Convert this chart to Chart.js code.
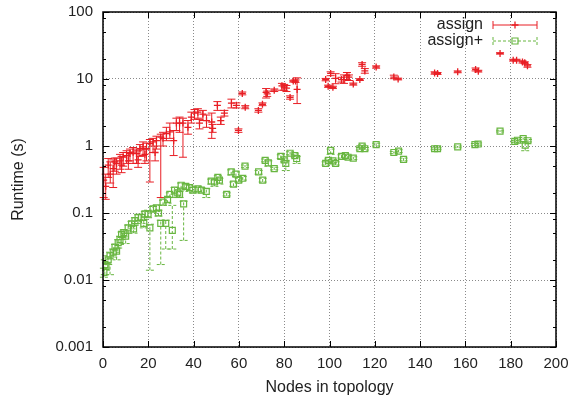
<!DOCTYPE html>
<html>
<head>
  <title>Runtime vs nodes</title>
  <script src="https://cdn.jsdelivr.net/npm/chart.js"></script>
  <style>
    body { margin: 0; background: #fff; }
    #wrap { width: 572px; height: 400px; }
  </style>
</head>
<body>
  <div id="wrap"><canvas id="runtimeChart"></canvas></div>

  <script>
    // ====================
    // Data: assign (x, runtime, error low, error high)
    // ====================
    const assignX  = [0.3, 1.2, 2.3, 3.2, 4.5, 5.2, 6.0, 7.5, 8.2, 8.9, 10.4, 11.2, 11.9, 13.3, 14.8, 15.5, 16.3, 17.7, 18.5, 19.2,
                      20.7, 22.1, 23.0, 23.6, 25.5, 26.5, 28.0, 29.5, 31.2, 32.4, 33.8, 35.3, 37.5, 39.0, 40.4, 41.9, 42.6, 44.1, 45.7, 48.0,
                      48.4, 50.5, 52.0, 53.6, 56.7, 58.9, 59.8, 61.5, 62.8, 68.6, 70.4, 72.0, 72.5, 75.6, 79.0, 80.0, 81.0, 82.6, 84.0, 85.0,
                      85.7, 98.3, 99.4, 100.5, 101.5, 102.7, 105.3, 106.4, 107.7, 108.6, 110.5, 113.4, 114.4, 115.6, 120.6, 128.4, 130.3, 146.4, 147.7, 156.6,
                      164.5, 165.7, 175.3, 181.1, 182.6, 185.2, 186.2, 187.4];
    const assignY  = [0.31, 0.25, 0.52, 0.38, 0.46, 0.58, 0.55, 0.6, 0.52, 0.68, 0.72, 0.6, 0.77, 0.81, 0.77, 0.62, 0.91, 0.97, 0.75, 0.91,
                      1.09, 1.15, 0.8, 1.2, 1.36, 1.3, 1.53, 1.62, 1.2, 2.2, 2.2, 2.2, 1.9, 2.7, 3.1, 3.2, 2.2, 3.0, 2.4, 2.28,
                      1.83, 4.05, 2.4, 3.1, 4.35, 4.05, 1.71, 6.1, 3.8, 3.4, 4.2, 6.3, 6.0, 6.8, 7.9, 7.6, 7.3, 5.3, 9.3, 9.3,
                      7.0, 9.8, 7.8, 12.1, 7.5, 10.2, 9.8, 9.8, 11.2, 10.7, 8.4, 9.8, 16.5, 13.2, 15.1, 10.7, 10.0, 12.3, 12.1, 12.8,
                      13.9, 13.1, 24.1, 19.1, 19.1, 18.0, 17.5, 15.7];
    const assignLo = [0.17, 0.16, 0.34, 0.28, 0.24, 0.42, 0.38, 0.45, 0.4, 0.5, 0.55, 0.45, 0.6, 0.55, 0.55, 0.48, 0.7, 0.72, 0.55, 0.6,
                      0.29, 0.8, 0.6, 0.9, 0.17, 1.0, 1.2, 1.3, 0.72, 1.7, 1.6, 0.68, 1.5, 2.2, 2.5, 2.6, 1.8, 2.4, 1.9, 1.3,
                      1.6, 3.4, 2.1, 2.8, 3.7, 3.7, 1.6, 5.8, 3.6, 3.2, 4.0, 5.2, 5.5, 6.5, 6.8, 6.8, 6.5, 5.0, 9.0, 8.9,
                      4.3, 9.4, 7.5, 11.2, 7.2, 8.5, 9.0, 8.6, 9.8, 9.5, 8.1, 9.5, 15.5, 12.2, 14.5, 10.1, 9.7, 11.8, 11.7, 12.4,
                      13.2, 12.7, 23.5, 18.5, 18.5, 17.3, 16.9, 15.0];
    const assignHi = [0.48, 0.38, 0.65, 0.58, 0.62, 0.66, 0.66, 0.75, 0.7, 0.8, 0.85, 0.8, 0.9, 0.95, 0.9, 0.85, 1.05, 1.15, 0.9, 1.1,
                      1.25, 1.3, 1.0, 1.4, 1.5, 1.6, 1.9, 2.2, 1.7, 2.6, 2.7, 2.6, 2.4, 3.2, 3.5, 3.6, 2.5, 3.4, 2.9, 3.1,
                      2.1, 4.6, 2.7, 3.4, 5.0, 4.4, 1.8, 6.4, 4.0, 3.6, 4.4, 7.2, 6.6, 7.1, 8.6, 8.3, 8.0, 5.6, 9.6, 9.7,
                      10.4, 10.2, 8.1, 12.8, 7.8, 12.0, 10.6, 11.5, 12.5, 11.5, 8.7, 10.1, 17.5, 14.3, 15.7, 11.4, 10.3, 12.8, 12.5, 13.2,
                      14.6, 13.5, 24.7, 19.7, 19.7, 18.7, 18.1, 16.4];

    // ====================
    // Data: assign+ (x, runtime, error low, error high)
    // ====================
    const plusX  = [0.4, 0.8, 1.3, 2.3, 3.1, 4.5, 5.3, 6.0, 6.7, 7.5, 8.2, 9.2, 10.0, 11.1, 12.6, 13.5, 14.1, 15.5, 17.0, 18.0,
                    18.5, 19.9, 20.7, 22.1, 23.6, 24.5, 25.5, 26.5, 27.7, 28.5, 29.5, 30.6, 31.6, 33.0, 33.8, 34.5, 35.6, 36.5, 38.2, 39.7,
                    41.9, 43.4, 45.6, 47.8, 49.2, 50.7, 51.4, 54.6, 56.6, 57.6, 58.7, 59.9, 61.7, 62.7, 68.7, 70.5, 71.6, 73.0, 75.6, 78.5,
                    80.0, 80.7, 82.6, 84.7, 85.5, 98.3, 99.5, 100.5, 101.5, 102.7, 105.3, 107.0, 108.2, 110.5, 113.4, 114.4, 115.6, 120.6, 128.4, 130.5,
                    132.7, 146.4, 147.7, 156.6, 164.2, 165.6, 175.3, 181.8, 183.0, 185.5, 186.4, 187.6];
    const plusY  = [0.013, 0.017, 0.016, 0.020, 0.023, 0.026, 0.031, 0.027, 0.036, 0.04, 0.048, 0.051, 0.045, 0.06, 0.069, 0.058, 0.077, 0.086, 0.086, 0.07,
                    0.097, 0.097, 0.06, 0.115, 0.12, 0.1, 0.07, 0.145, 0.07, 0.16, 0.19, 0.055, 0.22, 0.2, 0.19, 0.26, 0.137, 0.25, 0.24, 0.22,
                    0.23, 0.22, 0.21, 0.30, 0.29, 0.34, 0.31, 0.19, 0.41, 0.27, 0.38, 0.31, 0.33, 0.50, 0.41, 0.31, 0.61, 0.56, 0.46, 0.70,
                    0.62, 0.55, 0.78, 0.72, 0.65, 0.55, 0.61, 0.86, 0.60, 0.55, 0.70, 0.72, 0.68, 0.66, 0.91, 1.0, 0.91, 1.05, 0.80, 0.84,
                    0.63, 0.91, 0.91, 0.97, 1.05, 1.07, 1.67, 1.17, 1.22, 1.29, 1.03, 1.2];
    const plusLo = [0.011, 0.012, 0.014, 0.017, 0.012, 0.022, 0.026, 0.02, 0.03, 0.034, 0.04, 0.044, 0.035, 0.05, 0.058, 0.05, 0.066, 0.075, 0.07, 0.06,
                    0.085, 0.085, 0.014, 0.1, 0.105, 0.09, 0.017, 0.13, 0.029, 0.14, 0.17, 0.029, 0.19, 0.17, 0.17, 0.23, 0.039, 0.22, 0.21, 0.2,
                    0.21, 0.2, 0.17, 0.27, 0.25, 0.31, 0.27, 0.18, 0.37, 0.25, 0.35, 0.29, 0.31, 0.48, 0.38, 0.29, 0.58, 0.5, 0.44, 0.65,
                    0.58, 0.43, 0.74, 0.68, 0.55, 0.52, 0.58, 0.75, 0.57, 0.52, 0.66, 0.68, 0.64, 0.63, 0.87, 0.96, 0.87, 1.0, 0.77, 0.8,
                    0.6, 0.88, 0.88, 0.94, 1.01, 1.03, 1.62, 1.13, 1.18, 1.24, 0.85, 1.15];
    const plusHi = [0.015, 0.02, 0.018, 0.023, 0.026, 0.029, 0.034, 0.03, 0.04, 0.045, 0.052, 0.056, 0.05, 0.066, 0.075, 0.065, 0.085, 0.094, 0.095, 0.08,
                    0.105, 0.11, 0.068, 0.125, 0.13, 0.11, 0.078, 0.155, 0.078, 0.17, 0.2, 0.13, 0.24, 0.22, 0.21, 0.28, 0.15, 0.27, 0.26, 0.24,
                    0.25, 0.24, 0.23, 0.32, 0.31, 0.36, 0.33, 0.2, 0.44, 0.29, 0.41, 0.33, 0.35, 0.52, 0.43, 0.33, 0.64, 0.6, 0.48, 0.74,
                    0.66, 0.6, 0.82, 0.76, 0.7, 0.58, 0.64, 0.9, 0.63, 0.58, 0.74, 0.76, 0.72, 0.69, 0.95, 1.04, 0.95, 1.1, 0.83, 0.88,
                    0.66, 0.94, 0.94, 1.0, 1.09, 1.11, 1.72, 1.21, 1.26, 1.34, 1.1, 1.25];

    const yMajorTicks = [0.001, 0.01, 0.1, 1, 10, 100];
    const yMinorSteps = [2, 5, 8];
    const seriesNames = ['assign', 'assign+'];

    const RED = 'rgb(232, 30, 36)';
    const GREEN = 'rgb(104, 182, 64)';
    const FONT = '"Liberation Sans", Arial, sans-serif';

    function toPoints(xs, ys, lo, hi) {
      return xs.map((x, i) => ({ x: x, y: ys[i], lo: lo[i], hi: hi[i] }));
    }

    // error bars with caps, drawn through the chart scales
    const errorBars = {
      id: 'errorBars',
      beforeDatasetsDraw(chart) {
        const ctx = chart.ctx;
        const xs = chart.scales.x, ys = chart.scales.y;
        chart.data.datasets.forEach(ds => {
          ctx.save();
          ctx.strokeStyle = ds.borderColor;
          ctx.lineWidth = 1;
          ctx.setLineDash(ds.errDash || []);
          ds.data.forEach(p => {
            const px = xs.getPixelForValue(p.x);
            const y1 = ys.getPixelForValue(p.lo);
            const y2 = ys.getPixelForValue(p.hi);
            ctx.beginPath();
            ctx.moveTo(px, y1); ctx.lineTo(px, y2);
            ctx.moveTo(px - 4, y1); ctx.lineTo(px + 4, y1);
            ctx.moveTo(px - 4, y2); ctx.lineTo(px + 4, y2);
            ctx.stroke();
          });
          ctx.restore();
        });
      }
    };

    // gnuplot style frame: box, inward ticks, minor log ticks, key
    const frame = {
      id: 'frame',
      afterDraw(chart) {
        const ctx = chart.ctx;
        const a = chart.chartArea;
        const xs = chart.scales.x, ys = chart.scales.y;
        ctx.save();
        ctx.strokeStyle = '#000';
        ctx.lineWidth = 1;
        ctx.beginPath();
        xs.ticks.forEach(t => {
          const px = Math.round(xs.getPixelForValue(t.value)) + 0.5;
          ctx.moveTo(px, a.bottom); ctx.lineTo(px, a.bottom - 6);
          ctx.moveTo(px, a.top); ctx.lineTo(px, a.top + 6);
        });
        yMajorTicks.forEach(v => {
          const py = Math.round(ys.getPixelForValue(v)) + 0.5;
          ctx.moveTo(a.left, py); ctx.lineTo(a.left + 6, py);
          ctx.moveTo(a.right, py); ctx.lineTo(a.right - 6, py);
          if (v < 100) {
            yMinorSteps.forEach(m => {
              const pm = Math.round(ys.getPixelForValue(v * m)) + 0.5;
              ctx.moveTo(a.left, pm); ctx.lineTo(a.left + 3, pm);
              ctx.moveTo(a.right, pm); ctx.lineTo(a.right - 3, pm);
            });
          }
        });
        ctx.stroke();
        ctx.lineWidth = 1.5;
        ctx.strokeRect(Math.round(a.left), Math.round(a.top), Math.round(a.right - a.left), Math.round(a.bottom - a.top));

        // key
        ctx.font = '16px ' + FONT;
        ctx.fillStyle = '#222';
        ctx.textAlign = 'right';
        ctx.textBaseline = 'middle';
        chart.data.datasets.forEach((ds, i) => {
          const ky = 25 + i * 16;
          ctx.fillText(seriesNames[i], 483, ky);
          ctx.strokeStyle = ds.borderColor;
          ctx.lineWidth = 1;
          ctx.setLineDash(ds.errDash || []);
          ctx.beginPath();
          ctx.moveTo(493, ky); ctx.lineTo(537, ky);
          ctx.moveTo(493, ky - 4); ctx.lineTo(493, ky + 4);
          ctx.moveTo(537, ky - 4); ctx.lineTo(537, ky + 4);
          ctx.stroke();
          ctx.setLineDash([]);
          ctx.lineWidth = ds.borderWidth;
          ctx.beginPath();
          if (ds.pointStyle === 'cross') {
            ctx.moveTo(511.5, ky); ctx.lineTo(518.5, ky);
            ctx.moveTo(515, ky - 3.5); ctx.lineTo(515, ky + 3.5);
          } else {
            ctx.rect(512, ky - 3, 6, 6);
          }
          ctx.stroke();
        });
        ctx.restore();
      }
    };

    new Chart(document.getElementById('runtimeChart'), {
      type: 'scatter',
      data: {
        datasets: [
          {
            label: seriesNames[0],
            data: toPoints(assignX, assignY, assignLo, assignHi),
            borderColor: RED,
            backgroundColor: RED,
            pointStyle: 'cross',
            pointRadius: 3.5,
            borderWidth: 1.3
          },
          {
            label: seriesNames[1],
            data: toPoints(plusX, plusY, plusLo, plusHi),
            borderColor: GREEN,
            backgroundColor: 'rgba(0,0,0,0)',
            pointStyle: 'rect',
            pointRadius: 4.2,
            borderWidth: 1.2,
            errDash: [3, 2]
          }
        ]
      },
      options: {
        responsive: true,
        maintainAspectRatio: false,
        animation: false,
        layout: { padding: { top: 12, right: 16, left: 0, bottom: 0 } },
        plugins: {
          legend: { display: false },
          tooltip: { enabled: false }
        },
        scales: {
          x: {
            type: 'linear',
            min: 0,
            max: 200,
            ticks: { stepSize: 20, color: '#222', font: { family: FONT, size: 15 }, padding: 8 },
            grid: { color: '#8a8a8a', drawTicks: false },
            border: { display: false, dash: [1, 2] },
            title: { display: true, text: 'Nodes in topology', color: '#222', font: { family: FONT, size: 16 }, padding: { top: 2, bottom: 3 } },
            afterFit(scale) {
              scale.height = 53;
              scale.paddingLeft = 0;
              scale.paddingRight = 0;
            }
          },
          y: {
            type: 'logarithmic',
            min: 0.001,
            max: 100,
            afterBuildTicks(scale) { scale.ticks = yMajorTicks.map(v => ({ value: v })); },
            ticks: {
              autoSkip: false,
              color: '#222',
              font: { family: FONT, size: 15 },
              padding: 10,
              callback: v => String(v)
            },
            grid: { color: '#8a8a8a', drawTicks: false },
            border: { display: false, dash: [1, 2] },
            title: { display: true, text: 'Runtime (s)', color: '#222', font: { family: FONT, size: 16 }, padding: { top: 9, bottom: 0 } },
            afterFit(scale) {
              scale.width = 103;
              scale.paddingTop = 0;
              scale.paddingBottom = 0;
            }
          }
        }
      },
      plugins: [errorBars, frame]
    });
  </script>
</body>
</html>
